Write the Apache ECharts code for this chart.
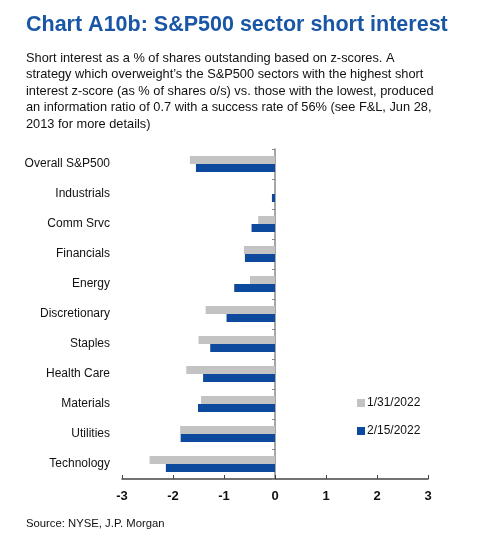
<!DOCTYPE html>
<html>
<head>
<meta charset="utf-8">
<script src="https://cdn.jsdelivr.net/npm/echarts@6/dist/echarts.min.js"></script>
<style>
html,body{margin:0;padding:0;background:#fff;}
#c{width:480px;height:536px;}
</style>
</head>
<body>
<div id="c"></div>
<script>
var categories = ['Overall S&P500','Industrials','Comm Srvc','Financials','Energy','Discretionary','Staples','Health Care','Materials','Utilities','Technology'];
var jan31 = [-1.67, 0, -0.33, -0.61, -0.49, -1.36, -1.50, -1.74, -1.45, -1.86, -2.46];
var feb15 = [-1.55, -0.06, -0.46, -0.59, -0.80, -0.95, -1.27, -1.41, -1.51, -1.85, -2.14];
var xTicks = [-3, -2, -1, 0, 1, 2, 3];

var chart = echarts.init(document.getElementById('c'), null, {renderer:'canvas'});
var font = 'Liberation Sans, Arial, sans-serif';
chart.setOption({
  backgroundColor: '#fff',
  animation: false,
  title: [
    {text: 'Chart A10b: S&P500 sector short interest', left: 21, top: 9,
     textStyle: {fontFamily: font, fontSize: 21.5, fontWeight: 'bold', color: '#1a56a6'}},
    {text: 'Short interest as a % of shares outstanding based on z-scores. A\nstrategy which overweight\u2019s the S&P500 sectors with the highest short\ninterest z-score (as % of shares o/s) vs. those with the lowest, produced\nan information ratio of 0.7 with a success rate of 56% (see F&L, Jun 28,\n2013 for more details)',
     left: 21, top: 45,
     textStyle: {fontFamily: font, fontSize: 12.8, fontWeight: 'normal', color: '#111', lineHeight: 16.5}},
    {text: 'Source: NYSE, J.P. Morgan', left: 21, top: 513,
     textStyle: {fontFamily: font, fontSize: 11.3, fontWeight: 'normal', color: '#111'}}
  ],
  legend: {
    orient: 'vertical', left: 352, top: 392, itemWidth: 8, itemHeight: 8, itemGap: 16,
    icon: 'rect',
    textStyle: {fontFamily: font, fontSize: 12, color: '#111', padding: [0,0,0,-3]},
    data: ['1/31/2022', '2/15/2022']
  },
  grid: {left: 122, right: 52, top: 149, bottom: 57, containLabel: false, outerBoundsMode: 'none'},
  xAxis: {
    type: 'value', min: -3, max: 3, interval: 1,
    axisLine: {show: true, lineStyle: {color: '#444', width: 1.5}},
    axisTick: {show: true, inside: true, length: 4, lineStyle: {color: '#444'}},
    splitLine: {show: false},
    axisLabel: {fontFamily: font, fontSize: 13, fontWeight: 'bold', color: '#111', margin: 11,
      customValues: xTicks}
  },
  yAxis: {
    type: 'category', data: categories, inverse: true,
    axisLine: {show: true, onZero: true, lineStyle: {color: '#888', width: 1.5}},
    axisTick: {show: true, length: 3, lineStyle: {color: '#888'}},
    axisLabel: {fontFamily: font, fontSize: 12, color: '#111', margin: 12}
  },
  series: [
    {name: '1/31/2022', type: 'bar', data: jan31, barWidth: 8, barGap: '0%',
     itemStyle: {color: '#c3c3c3'}},
    {name: '2/15/2022', type: 'bar', data: feb15, barWidth: 8, barGap: '0%',
     itemStyle: {color: '#0d4a9e'}}
  ]
});
</script>
</body>
</html>
